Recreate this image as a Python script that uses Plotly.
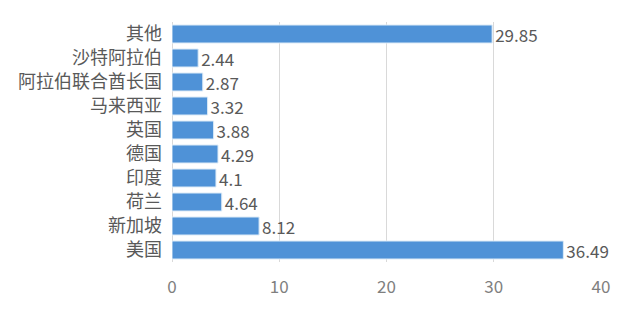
import plotly.graph_objects as go

categories = ['美国', '新加坡', '荷兰', '印度', '德国', '英国', '马来西亚', '阿拉伯联合酋长国', '沙特阿拉伯', '其他']
values = [36.49, 8.12, 4.64, 4.1, 4.29, 3.88, 3.32, 2.87, 2.44, 29.85]
value_labels = ['36.49', '8.12', '4.64', '4.1', '4.29', '3.88', '3.32', '2.87', '2.44', '29.85']
x_ticks = [0, 10, 20, 30, 40]

FONT = 'Noto Sans CJK SC'

fig = go.Figure(go.Bar(
    x=values, y=categories, orientation='h',
    marker=dict(color='#4F92D7', line=dict(color='#DDEBF7', width=1)),
    text=value_labels, textposition='outside', cliponaxis=False, constraintext='none',
    textfont=dict(family=FONT, size=17, color='#595959'),
))

fig.update_layout(
    width=630, height=314,
    margin=dict(l=172, r=29, t=22, b=52),
    paper_bgcolor='white', plot_bgcolor='white',
    bargap=0.25, showlegend=False,
    font=dict(family=FONT, color='#595959'),
)
fig.update_xaxes(
    range=[0, 40], tickvals=x_ticks, showgrid=True, gridcolor='#D9D9D9', gridwidth=1,
    zeroline=True, zerolinecolor='#D9D9D9', zerolinewidth=1, showline=False,
    tickfont=dict(family=FONT, size=17, color='#7F7F7F'), ticklabelstandoff=13,
)
fig.update_yaxes(
    categoryorder='array', categoryarray=categories, showgrid=False, showline=False,
    tickfont=dict(family=FONT, size=18, color='#595959'), ticklabelstandoff=9,
)

fig.write_html('out.html')
